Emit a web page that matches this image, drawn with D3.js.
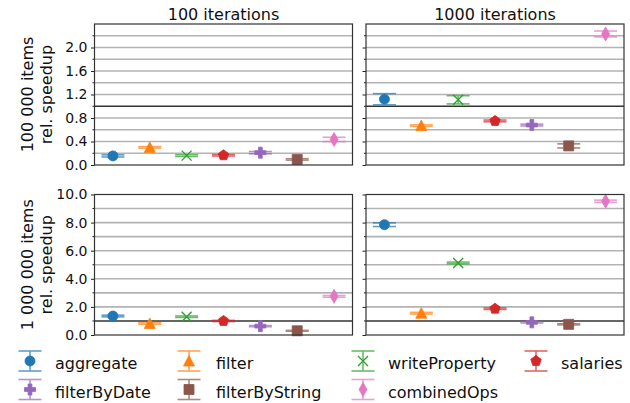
<!DOCTYPE html>
<html>
<head>
  <meta charset="utf-8" />
  <script src="https://cdn.jsdelivr.net/npm/d3@7"></script>
  <style>
    body { margin: 0; background: #fff; }
    text { font-family: "DejaVu Sans", sans-serif; fill: #111; }
  </style>
</head>
<body>
  <svg id="chart" width="630" height="403"></svg>
  <script>
  // benchmark names, in plotting order
  var categories = ["aggregate", "filter", "writeProperty", "salaries", "filterByDate", "filterByString", "combinedOps"]
  var colors = ["#1f77b4", "#ff7f0e", "#2ca02c", "#d62728", "#9467bd", "#8c564b", "#e377c2"]
  var markers = ["circle", "triangle", "x", "pentagon", "plus", "square", "thindiamond"]

  var colTitles = ["100 iterations", "1000 iterations"]
  var rowLabels = [["100 000 items", "rel. speedup"], ["1 000 000 items", "rel. speedup"]]

  // mean relative speedup and error half-width per panel
  var small100 = [0.155, 0.30, 0.16, 0.165, 0.21, 0.095, 0.435]
  var small100Err = [0.018, 0.012, 0.015, 0.012, 0.02, 0.012, 0.037]
  var small1000 = [1.12, 0.67, 1.11, 0.75, 0.68, 0.325, 2.23]
  var small1000Err = [0.095, 0.012, 0.07, 0.015, 0.015, 0.035, 0.05]
  var big100 = [1.35, 0.82, 1.3, 1.0, 0.63, 0.3, 2.75]
  var big100Err = [0.06, 0.05, 0.05, 0.04, 0.04, 0.03, 0.06]
  var big1000 = [7.85, 1.55, 5.13, 1.87, 0.9, 0.76, 9.52]
  var big1000Err = [0.13, 0.06, 0.06, 0.05, 0.04, 0.04, 0.08]

  var rowMax = [2.4, 10]
  var rowMajor = [[0, 0.4, 0.8, 1.2, 1.6, 2.0], [0, 2, 4, 6, 8, 10]]
  var rowMinor = [[0.2, 0.4, 0.6, 0.8, 1.0, 1.2, 1.4, 1.6, 1.8, 2.0, 2.2], [1, 2, 3, 4, 5, 6, 7, 8, 9]]

  var panels = [
    {row: 0, col: 0, values: small100, err: small100Err},
    {row: 0, col: 1, values: small1000, err: small1000Err},
    {row: 1, col: 0, values: big100, err: big100Err},
    {row: 1, col: 1, values: big1000, err: big1000Err}
  ]

  var svg = d3.select("#chart")
  var colX = [94.5, 366], panelW = 258
  var rowY = [24, 194.5], panelH = [141, 140.5]

  function markerPath(type) {
    var p = d3.path()
    if (type === "circle") {
      p.arc(0, 0, 5, 0, 2 * Math.PI)
    } else if (type === "triangle") {
      p.moveTo(0, -5.5); p.lineTo(5.5, 5); p.lineTo(-5.5, 5); p.closePath()
    } else if (type === "x") {
      p.moveTo(-5, -5); p.lineTo(5, 5); p.moveTo(-5, 5); p.lineTo(5, -5)
    } else if (type === "pentagon") {
      for (var i = 0; i < 5; i++) {
        var a = -Math.PI / 2 + i * 2 * Math.PI / 5
        if (i === 0) p.moveTo(5.5 * Math.cos(a), 5.5 * Math.sin(a))
        else p.lineTo(5.5 * Math.cos(a), 5.5 * Math.sin(a))
      }
      p.closePath()
    } else if (type === "plus") {
      var s = 5.5, t = 1.9
      p.moveTo(-t, -s); p.lineTo(t, -s); p.lineTo(t, -t); p.lineTo(s, -t); p.lineTo(s, t); p.lineTo(t, t)
      p.lineTo(t, s); p.lineTo(-t, s); p.lineTo(-t, t); p.lineTo(-s, t); p.lineTo(-s, -t); p.lineTo(-t, -t); p.closePath()
    } else if (type === "square") {
      p.rect(-5, -5, 10, 10)
    } else if (type === "thindiamond") {
      p.moveTo(0, -7); p.lineTo(4, 0); p.lineTo(0, 7); p.lineTo(-4, 0); p.closePath()
    }
    return p.toString()
  }

  function drawMarker(g, i) {
    var m = g.append("path").attr("d", markerPath(markers[i]))
    if (markers[i] === "x") m.attr("fill", "none").attr("stroke", colors[i]).attr("stroke-width", 1.3)
    else m.attr("fill", colors[i]).attr("stroke", colors[i]).attr("stroke-width", 0.8)
  }

  function drawErrorBar(g, i, y1, y2) {
    var e = g.append("g").attr("stroke", colors[i]).attr("stroke-width", 1.6).attr("opacity", 0.7)
    e.append("line").attr("x1", 0).attr("x2", 0).attr("y1", y1).attr("y2", y2)
    e.append("line").attr("x1", -11.5).attr("x2", 11.5).attr("y1", y1).attr("y2", y1)
    e.append("line").attr("x1", -11.5).attr("x2", 11.5).attr("y1", y2).attr("y2", y2)
  }

  panels.forEach(function(pn) {
    var x0 = colX[pn.col], y0 = rowY[pn.row], h = panelH[pn.row]
    var x = d3.scaleLinear().domain([-0.5, 6.5]).range([0, panelW])
    var y = d3.scaleLinear().domain([0, rowMax[pn.row]]).range([h, 0])
    var g = svg.append("g").attr("transform", "translate(" + x0 + "," + y0 + ")")

    // grid
    g.append("g").selectAll("line")
      .data(rowMinor[pn.row])
      .enter().append("line")
      .attr("x1", 0).attr("x2", panelW)
      .attr("y1", d => y(d)).attr("y2", d => y(d))
      .attr("stroke", d => d === 1 ? "#333" : "#b3b3b3")
      .attr("stroke-width", 1.6)

    // y axis
    var axis = d3.axisLeft(y).tickValues(rowMajor[pn.row]).tickSize(3.5).tickPadding(3.5)
      .tickFormat(d3.format(".1f"))
    var ax = g.append("g").call(axis)
    ax.select(".domain").remove()
    ax.selectAll("line").attr("stroke", "#222")
    ax.selectAll("text").style("font-size", "14px").style("font-family", "DejaVu Sans").attr("fill", "#111")
    if (pn.col === 1) ax.selectAll("text").remove()
    g.append("g").selectAll("line")
      .data(rowMinor[pn.row].filter(d => rowMajor[pn.row].indexOf(d) < 0))
      .enter().append("line")
      .attr("x1", -2).attr("x2", 0)
      .attr("y1", d => y(d)).attr("y2", d => y(d))
      .attr("stroke", "#222")

    // data
    pn.values.forEach(function(v, i) {
      var mg = g.append("g").attr("transform", "translate(" + x(i) + "," + y(v) + ")")
      drawErrorBar(mg, i, y(v + pn.err[i]) - y(v), y(v - pn.err[i]) - y(v))
      drawMarker(mg, i)
    })

    // frame
    g.append("rect").attr("width", panelW).attr("height", h)
      .attr("fill", "none").attr("stroke", "#333").attr("stroke-width", 1.2)

    if (pn.row === 0) {
      svg.append("text").attr("x", x0 + panelW / 2).attr("y", 20)
        .attr("text-anchor", "middle").style("font-size", "16px").text(colTitles[pn.col])
    }
    if (pn.col === 0) {
      rowLabels[pn.row].forEach(function(t, k) {
        svg.append("text")
          .attr("transform", "translate(" + (33 + k * 19) + "," + (y0 + h / 2) + ") rotate(-90)")
          .attr("text-anchor", "middle").style("font-size", "16px").text(t)
      })
    }
  })

  // legend: 4 columns, 2 rows
  var legX = [30, 189, 363, 536], legTextX = [55, 216, 388, 561]
  var legY = [361, 389.5]
  categories.forEach(function(c, i) {
    var col = i % 4, row = Math.floor(i / 4)
    var lg = svg.append("g").attr("transform", "translate(" + legX[col] + "," + legY[row] + ")")
    drawErrorBar(lg, i, -10, 10)
    drawMarker(lg, i)
    svg.append("text").attr("x", legTextX[col]).attr("y", legY[row] + 8)
      .style("font-size", "16px").text(c)
  })
  </script>
</body>
</html>
